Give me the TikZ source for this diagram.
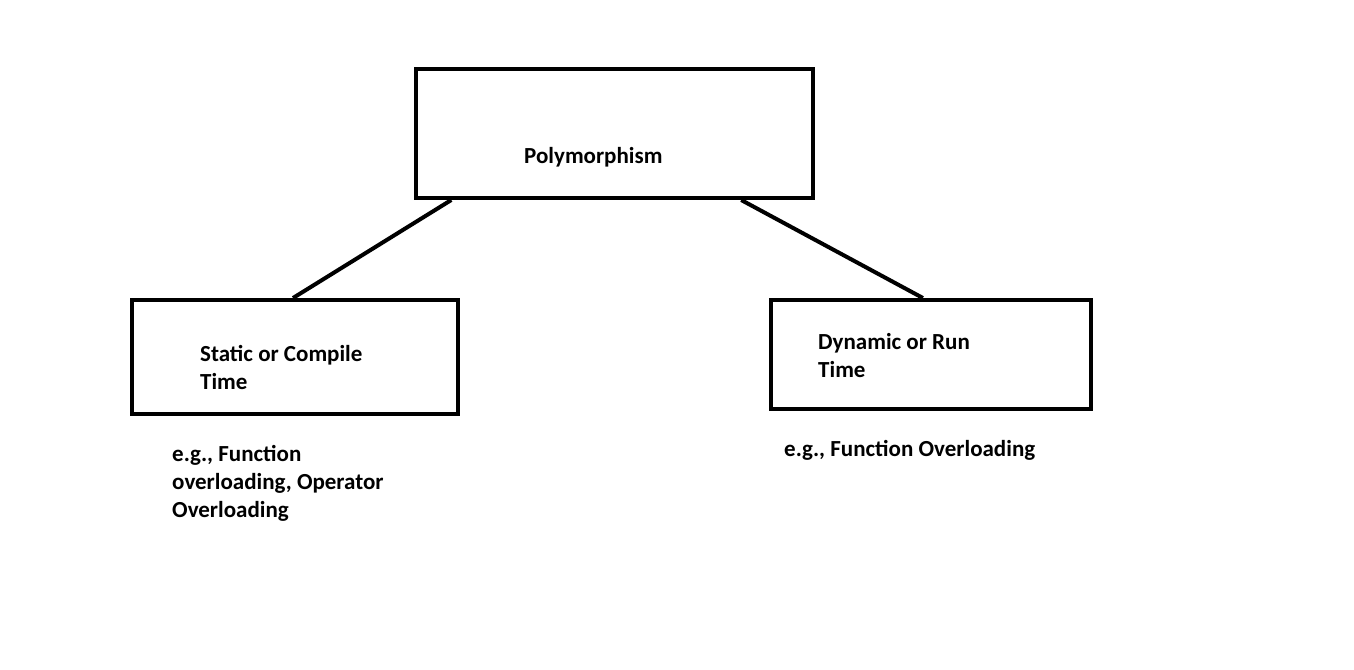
\documentclass[tikz,border=0pt]{standalone}
\usetikzlibrary{calc}
\usepackage{fontspec}
\setmainfont{Carlito}
\newfontfamily\lblfont{Carlito}
\begin{document}
\begin{tikzpicture}[x=1pt,y=-1pt,
  box/.style={draw, line width=4pt, inner sep=0pt},
  lbl/.style={anchor=north west, align=left, inner sep=0pt, font=\lblfont\bfseries\fontsize{23}{28}\selectfont},
  conn/.style={line width=4pt}]
\useasboundingbox[fill=white] (0,0) rectangle (1354,669);
\node[box, minimum width=397pt, minimum height=129pt] (poly) at (614.5,133.5) {};
\node[box, minimum width=326pt, minimum height=114pt] (static) at (295,357) {};
\node[box, minimum width=320pt, minimum height=109pt] (dyn) at (931,354.5) {};
\node[lbl, anchor=base west] (polyt) at (524,163) {Polymorphism};
\node[lbl] (statict) at (200,345) {Static or Compile\\Time};
\node[lbl] (dynt) at (818,333) {Dynamic or Run\\Time};
\node[lbl] (ex1) at (172,445) {e.g., Function\\overloading, Operator\\Overloading};
\node[lbl, anchor=base west] (ex2) at (784,456) {e.g., Function Overloading};
\coordinate (p1) at ($(poly.south west)!0.093!(poly.south east)$);
\coordinate (p2) at ($(poly.south west)!0.816!(poly.south east)$);
\coordinate (s1) at ($(static.north west)!0.494!(static.north east)$);
\coordinate (d1) at ($(dyn.north west)!0.475!(dyn.north east)$);
\draw[conn] (p1) -- (s1);
\draw[conn] (p2) -- (d1);
\end{tikzpicture}
\end{document}
